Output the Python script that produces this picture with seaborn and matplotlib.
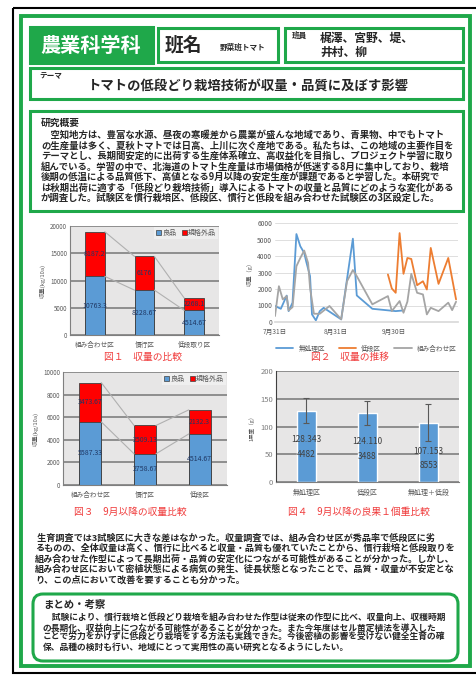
import matplotlib
matplotlib.use("Agg")
import matplotlib.pyplot as plt
from matplotlib.patches import Rectangle, FancyBboxPatch, Patch
import seaborn as sns

sns.set_theme(style="white")
plt.rcParams["font.family"] = ["Noto Sans CJK JP", "DejaVu Sans"]

###
# Data
###

# 図1 収量の比較
plots1 = ["組み合わせ区", "慣行区", "低段取り区"]
good1 = [10763.3, 8228.665, 4514.667]
off1 = [8187.2, 6176, 2268.1]

# 図2 収量の推移 (days after 7/31, g)
days_none = [0, 3, 6, 7, 9, 11, 13, 15, 16, 18, 19, 21, 23, 25, 34, 40, 42, 50, 62, 66]
yield_none = [970, 800, 1600, 660, 1170, 5330, 4590, 4190, 3680, 2780, 460, 100,
              660, 860, 160, 5050, 1610, 800, 660, 700]
days_low = [58, 60, 62, 64, 66, 68, 70, 73, 76, 78, 80, 84, 89, 93]
yield_low = [2880, 2030, 1770, 5390, 2920, 3880, 3820, 2230, 2470, 1970, 4490,
             2310, 3880, 1370]
days_comb = [0, 2, 4, 6, 7, 9, 11, 13, 15, 17, 18, 20, 23, 28, 34, 37, 40, 42, 50,
             58, 60, 64, 66, 68, 70, 73, 76, 78, 80, 84, 89, 91, 93]
yield_comb = [360, 2170, 1370, 1570, 700, 900, 3380, 3880, 4330, 3580, 2070, 500,
              500, 970, 160, 2470, 3150, 2780, 1070, 1570, 660, 1270, 560, 1230,
              2920, 1770, 1670, 460, 860, 660, 1170, 720, 1230]
date_ticks = [0, 31, 61]
date_labels = ["7月31日", "8月31日", "9月30日"]

# 図3 9月以降の収量比較
plots3 = ["組み合わせ区", "慣行区", "低段区"]
good3 = [5587.334, 2758.666, 4514.667]
off3 = [3473.666, 2509.132, 2132.3]

# 図4 9月以降の良果1個重比較
plots4 = ["無処理区", "低段区", "無処理＋低段"]
weight4 = [128.343, 124.110, 107.153]
err4 = [22.4482, 21.3488, 33.8553]

###
# Texts
###

members = ["梶澤、宮野、堤、", "井村、柳"]
theme = "トマトの低段どり栽培技術が収量・品質に及ぼす影響"
summary = [
    "　空知地方は、豊富な水源、昼夜の寒暖差から農業が盛んな地域であり、青果物、中でもトマト",
    "の生産量は多く、夏秋トマトでは日高、上川に次ぐ産地である。私たちは、この地域の主要作目を",
    "テーマとし、長期間安定的に出荷する生産体系確立、高収益化を目指し、プロジェクト学習に取り",
    "組んでいる。学習の中で、北海道のトマト生産量は市場価格が低迷する8月に集中しており、栽培",
    "後期の低温による品質低下、高値となる9月以降の安定生産が課題であると学習した。本研究で",
    "は秋期出荷に適する「低段どり栽培技術」導入によるトマトの収量と品質にどのような変化がある",
    "か調査した。試験区を慣行栽培区、低段区、慣行と低段を組み合わせた試験区の3区設定した。",
]
results = [
    " 生育調査では3試験区に大きな差はなかった。収量調査では、組み合わせ区が秀品率で低段区に劣",
    "るものの、全体収量は高く、慣行に比べると収量・品質も優れていたことから、慣行栽培と低段取りを",
    "組み合わせた作型によって長期出荷・品質の安定化につながる可能性があることが分かった。しかし、",
    "組み合わせ区において密植状態による病気の発生、徒長状態となったことで、品質・収量が不安定とな",
    "り、この点において改善を要することも分かった。",
]
conclusion = [
    "　試験により、慣行栽培と低段どり栽培を組み合わせた作型は従来の作型に比べ、収量向上、収穫時期",
    "の長期化、収益向上につながる可能性があることが分かった。また今年度はセル苗定植法を導入した",
    "ことで労力をかけずに低段どり栽培をする方法も実践できた。今後密植の影響を受けない健全生育の確",
    "保、品種の検討も行い、地域にとって実用性の高い研究となるようにしたい。",
]

GREEN = "#1fa84a"
BLUE = "#5b9bd5"
RED = "#ff0000"
ORANGE = "#ed7d31"
GRAY = "#a5a5a5"
CAPTION = "#f03c3c"
TICK = "#595959"

W, H = 477, 675
fig = plt.figure(figsize=(W / 100, H / 100), dpi=100)

# background layer in pixel coordinates
bg = fig.add_axes([0, 0, 1, 1])
bg.set_xlim(0, W)
bg.set_ylim(H, 0)
bg.axis("off")


def box(x0, y0, x1, y1, lw=2.2, fill="white", ec=GREEN):
    bg.add_patch(Rectangle((x0, y0), x1 - x0, y1 - y0, fc=fill, ec=ec, lw=lw))


def px_axes(l, t, r, b):
    return fig.add_axes([l / W, 1 - b / H, (r - l) / W, (b - t) / H])


bg.add_patch(Rectangle((13, 8), 475, 665, fill=False, ec="black", lw=1.5))
bg.add_patch(Rectangle((21, 16), 449, 650, fill=False, ec=GREEN, lw=2.8))

# header
box(30, 27, 153, 63, fill=GREEN)
bg.text(91, 45, "農業科学科", color="white", fontsize=14.5, fontweight="bold",
        ha="center", va="center")
box(158, 28, 278, 62)
bg.text(165, 45, "班名", fontsize=13.5, fontweight="bold", ha="left", va="center")
bg.text(220, 47, "野菜班トマト", fontsize=5.5, fontweight="bold", ha="left", va="center")
box(285, 28, 463, 62)
bg.text(292, 35, "班員", fontsize=5.5, fontweight="bold", ha="left", va="center")
bg.text(320, 38, members[0], fontsize=8.5, fontweight="bold", ha="left", va="center")
bg.text(320, 52, members[1], fontsize=8.5, fontweight="bold", ha="left", va="center")

# theme
box(30, 68, 463, 99)
bg.text(39, 76, "テーマ", fontsize=5.5, fontweight="bold", ha="left", va="center")
bg.text(248, 86, theme, fontsize=9.6, fontweight="bold", ha="center", va="center")

# research summary
box(30, 111, 463, 211)
bg.text(41, 123, "研究概要", fontsize=7, fontweight="bold", ha="left", va="center")
for i, line in enumerate(summary):
    bg.text(41, 135 + i * 10.5, line, fontsize=6.75, fontweight="bold",
            ha="left", va="center")

# results text
for i, line in enumerate(results):
    bg.text(35, 538 + i * 10.5, line, fontsize=6.55, fontweight="bold",
            ha="left", va="center")

# conclusion
bg.add_patch(FancyBboxPatch((33, 594), 425, 67, boxstyle="round,pad=0,rounding_size=10",
                            fc="white", ec=GREEN, lw=2.2))
bg.text(43, 605, "まとめ・考察", fontsize=7.5, fontweight="bold", ha="left", va="center")
for i, line in enumerate(conclusion):
    bg.text(43, 618.5 + i * 9.6, line, fontsize=6.3, fontweight="bold",
            ha="left", va="center")

# captions
bg.text(143, 357, "図１　収量の比較", color=CAPTION, fontsize=7, ha="center", va="center")
bg.text(350, 357, "図２　収量の推移", color=CAPTION, fontsize=7, ha="center", va="center")
bg.text(130, 512, "図３　9月以降の収量比較", color=CAPTION, fontsize=7, ha="center", va="center")
bg.text(359, 512, "図４　9月以降の良果１個重比較", color=CAPTION, fontsize=7,
        ha="center", va="center")


def style_gray(ax):
    ax.set_facecolor("#e7e6e6")
    ax.set_axisbelow(True)
    ax.yaxis.grid(True, color="#7f7f7f", lw=1.2)
    ax.xaxis.grid(False)
    for s in ["top", "right"]:
        ax.spines[s].set_visible(False)
    for s in ["left", "bottom"]:
        ax.spines[s].set_color("#7f7f7f")
        ax.spines[s].set_linewidth(0.8)
    ax.tick_params(length=0, pad=2, colors=TICK)


def stacked(ax, cats, good, off, ymax, step):
    total = [g + o for g, o in zip(good, off)]
    sns.barplot(x=cats, y=total, color=RED, width=0.4, saturation=1,
                edgecolor="#404040", linewidth=0.6, ax=ax)
    sns.barplot(x=cats, y=good, color=BLUE, width=0.4, saturation=1,
                edgecolor="#404040", linewidth=0.6, ax=ax)
    # series lines
    for i in range(len(cats) - 1):
        for s in (good, total):
            ax.plot([i + 0.2, i + 0.8], [s[i], s[i + 1]], color="#b0b0b0", lw=0.8, zorder=3)
    for i in range(len(cats)):
        ax.text(i, good[i] / 2, f"{good[i]:g}", fontsize=5, color="#203864",
                ha="center", va="center")
        ax.text(i, good[i] + off[i] / 2, f"{off[i]:g}", fontsize=5, color="#203864",
                ha="center", va="center")
    style_gray(ax)
    ax.set_xlim(-0.5, len(cats) - 0.5)
    ax.set_ylim(0, ymax)
    ax.set_yticks(range(0, ymax + 1, step))
    ax.tick_params(axis="y", labelsize=4.5)
    ax.tick_params(axis="x", labelsize=4.8, pad=4)
    ax.set_ylabel("収量(kg/10a)", fontsize=4.2, color=TICK, labelpad=3)
    ax.set_xlabel("")
    ax.legend(handles=[Patch(fc=BLUE, ec="#404040", lw=0.5, label="良品"),
                       Patch(fc=RED, ec="#404040", lw=0.5, label="規格外品")],
              loc="upper right", ncol=2, fontsize=5, frameon=True, facecolor="#f2f2f2",
              edgecolor="none", handlelength=0.7, handleheight=0.7, handletextpad=0.2,
              columnspacing=0.8, borderpad=0.3, borderaxespad=0.1, labelcolor=TICK,
              fancybox=False)


ax1 = px_axes(70, 226, 219, 335)
stacked(ax1, plots1, good1, off1, 20000, 5000)

ax3 = px_axes(63, 372, 227, 485)
stacked(ax3, plots3, good3, off3, 10000, 2000)

# 図2 line chart
ax2 = px_axes(275, 223, 458, 322)
sns.lineplot(x=days_none, y=yield_none, color=BLUE, lw=1.3, ax=ax2, label="無処理区")
sns.lineplot(x=days_low, y=yield_low, color=ORANGE, lw=1.3, ax=ax2, label="低段区")
sns.lineplot(x=days_comb, y=yield_comb, color=GRAY, lw=1.3, ax=ax2, label="組み合わせ区")
ax2.set_xlim(0, 94)
ax2.set_ylim(0, 6000)
ax2.set_yticks(range(0, 6001, 1000))
ax2.set_xticks(date_ticks)
ax2.set_xticklabels(date_labels)
ax2.set_axisbelow(True)
ax2.yaxis.grid(True, color="#d9d9d9", lw=0.6)
ax2.xaxis.grid(False)
for s in ["top", "right", "left"]:
    ax2.spines[s].set_visible(False)
ax2.spines["bottom"].set_color("#d9d9d9")
ax2.tick_params(length=0, pad=2, colors=TICK, labelsize=4.8)
ax2.tick_params(axis="x", pad=4)
ax2.set_ylabel("収量（g）", fontsize=4.2, color=TICK, labelpad=3)
ax2.legend(loc="upper center", bbox_to_anchor=(0.5, -0.17), ncol=3, fontsize=4.8,
           frameon=False, handlelength=2.6, columnspacing=2.0, labelcolor=TICK)

# 図4 bar chart with error bars
ax4 = px_axes(276, 371, 459, 482)
sns.barplot(x=plots4, y=weight4, color=BLUE, width=0.31, saturation=1, ax=ax4)
ax4.errorbar(range(len(plots4)), weight4, yerr=err4, fmt="none", ecolor="#595959",
             elinewidth=0.8, capsize=2, capthick=0.8, zorder=4)
for i, (v, e) in enumerate(zip(weight4, err4)):
    ax4.text(i, v - 52, f"{v:.3f}", fontsize=6, color="#404040", ha="center", va="center")
    ax4.text(i, v - 78, f"{e:.4f}".split(".")[1], fontsize=6, color="#404040",
             ha="center", va="center")
style_gray(ax4)
ax4.spines["left"].set_color("#404040")
ax4.set_xlim(-0.5, 2.5)
ax4.set_ylim(0, 200)
ax4.set_yticks(range(0, 201, 50))
ax4.tick_params(axis="y", labelsize=5.5, colors="#7f7f7f")
ax4.tick_params(axis="x", labelsize=5, pad=5)
ax4.set_ylabel("1果重（g）", fontsize=4, color=TICK, labelpad=4)
ax4.set_xlabel("")

fig.savefig("out.png", dpi=100)
